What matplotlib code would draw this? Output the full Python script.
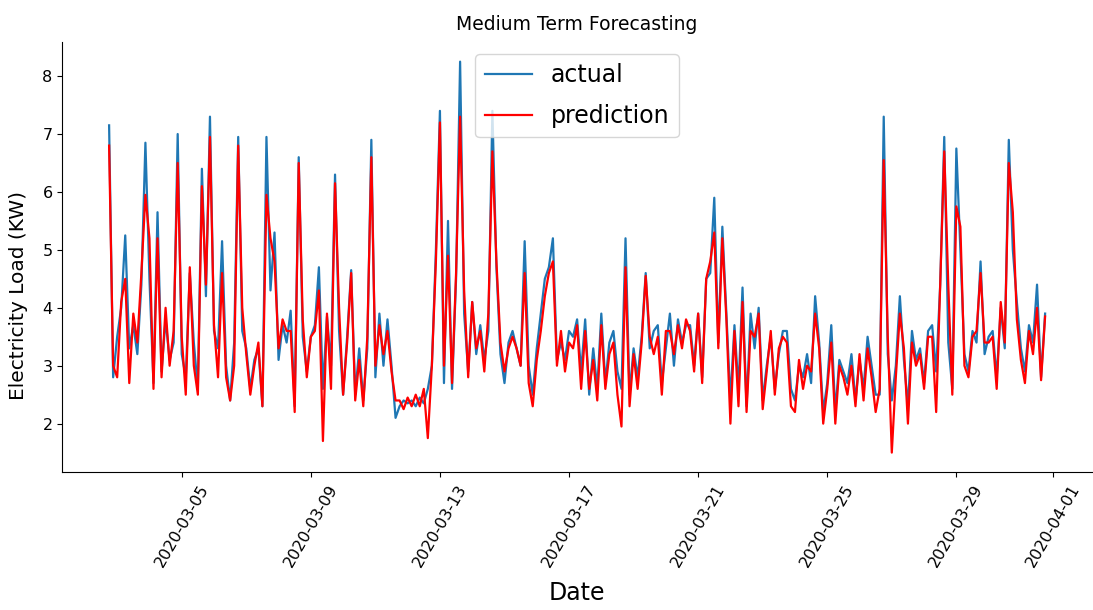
"""Medium term forecasting: actual vs predicted electricity load."""

import matplotlib
matplotlib.use("Agg")
import matplotlib.pyplot as plt
import matplotlib.dates as mdates
import pandas as pd

# 3-hourly readings starting 2020-03-02 18:00 (one row per day)
actual = [
    7.15, 2.8, 3.5, 4.0, 5.25, 3.3, 3.7, 3.2,
    4.4, 6.85, 4.5, 2.7, 5.65, 2.9, 3.8, 3.1,
    3.4, 7.0, 3.2, 2.8, 4.6, 3.4, 2.6, 6.4,
    4.2, 7.3, 3.6, 3.3, 5.15, 3.0, 2.4, 3.4,
    6.95, 3.6, 3.3, 2.6, 3.1, 3.3, 2.3, 6.95,
    4.3, 5.3, 3.1, 3.7, 3.4, 3.95, 2.3, 6.6,
    3.5, 2.9, 3.5, 3.7, 4.7, 2.6, 3.85, 3.0,
    6.3, 3.6, 2.5, 3.5, 4.65, 2.5, 3.3, 2.4,
    3.3, 6.9, 2.8, 3.9, 3.0, 3.8, 3.0, 2.1,
    2.3, 2.4, 2.35, 2.4, 2.3, 2.45, 2.35, 2.6,
    3.0, 5.0, 7.4, 2.7, 5.5, 2.6, 4.5, 8.25,
    3.9, 2.9, 4.1, 3.2, 3.7, 3.1, 3.6, 7.4,
    4.7, 3.2, 2.7, 3.4, 3.6, 3.3, 3.0, 5.15,
    3.0, 2.5, 3.3, 3.9, 4.5, 4.7, 5.2, 3.1,
    3.4, 3.1, 3.6, 3.5, 3.8, 2.9, 3.8, 2.5,
    3.3, 2.6, 3.9, 2.7, 3.4, 3.6, 2.9, 2.6,
    5.2, 2.5, 3.3, 2.8, 3.5, 4.6, 3.3, 3.6,
    3.7, 2.7, 3.3, 3.9, 3.0, 3.8, 3.4, 3.7,
    3.7, 3.0, 3.9, 2.8, 4.5, 4.6, 5.9, 3.4,
    5.4, 3.9, 2.4, 3.7, 2.6, 4.35, 2.3, 3.9,
    3.3, 4.0, 2.4, 3.0, 3.5, 2.6, 3.2, 3.6,
    3.6, 2.6, 2.4, 3.0, 2.8, 3.2, 2.7, 4.2,
    3.4, 2.2, 2.7, 3.7, 2.2, 3.1, 2.9, 2.7,
    3.2, 2.4, 3.1, 2.6, 3.5, 3.0, 2.5, 2.5,
    7.3, 3.2, 2.4, 3.0, 4.2, 3.1, 2.3, 3.6,
    3.1, 3.3, 2.7, 3.6, 3.7, 2.9, 4.4, 6.95,
    3.4, 2.6, 6.75, 5.0, 3.2, 2.9, 3.6, 3.4,
    4.8, 3.2, 3.5, 3.6, 2.8, 4.0, 3.3, 6.9,
    5.0, 4.1, 3.3, 2.9, 3.7, 3.4, 4.4, 2.8,
    3.9,
]

prediction = [
    6.8, 3.0, 2.8, 4.1, 4.5, 2.7, 3.9, 3.4,
    4.6, 5.95, 5.2, 2.6, 5.2, 2.8, 4.0, 3.0,
    3.6, 6.5, 3.5, 2.5, 4.7, 3.0, 2.5, 6.1,
    4.4, 6.95, 3.7, 2.8, 4.6, 2.8, 2.4, 3.0,
    6.8, 4.0, 3.2, 2.5, 3.0, 3.4, 2.3, 5.95,
    5.2, 4.8, 3.3, 3.8, 3.6, 3.6, 2.2, 6.5,
    3.8, 2.8, 3.5, 3.6, 4.3, 1.7, 3.9, 2.6,
    6.15, 4.0, 2.5, 3.4, 4.6, 2.4, 3.1, 2.3,
    3.5, 6.6, 3.0, 3.7, 3.2, 3.6, 2.9, 2.4,
    2.4, 2.25, 2.45, 2.3, 2.5, 2.3, 2.6, 1.75,
    3.0, 4.8, 7.2, 3.0, 4.9, 2.7, 4.6, 7.3,
    4.3, 2.8, 4.1, 3.3, 3.6, 2.9, 3.9, 6.7,
    4.8, 3.4, 2.9, 3.3, 3.5, 3.3, 3.0, 4.6,
    2.7, 2.3, 3.1, 3.6, 4.2, 4.6, 4.8, 3.0,
    3.6, 2.9, 3.4, 3.3, 3.7, 2.6, 3.6, 2.6,
    3.1, 2.4, 3.7, 2.6, 3.2, 3.4, 2.5, 1.95,
    4.7, 2.3, 3.2, 2.6, 3.4, 4.55, 3.5, 3.2,
    3.5, 2.5, 3.6, 3.6, 3.2, 3.7, 3.3, 3.8,
    3.6, 2.9, 3.9, 2.7, 4.5, 4.8, 5.3, 3.3,
    5.2, 3.8, 2.0, 3.6, 2.3, 4.1, 2.2, 3.6,
    3.5, 3.9, 2.25, 2.9, 3.6, 2.5, 3.3, 3.5,
    3.4, 2.3, 2.2, 3.1, 2.6, 3.0, 2.9, 3.9,
    3.3, 2.0, 2.6, 3.4, 2.0, 3.0, 2.8, 2.5,
    3.0, 2.3, 3.2, 2.4, 3.3, 2.8, 2.2, 2.6,
    6.55, 3.5, 1.5, 2.8, 3.9, 3.3, 2.0, 3.4,
    3.0, 3.2, 2.6, 3.5, 3.5, 2.2, 4.4, 6.7,
    4.4, 2.5, 5.75, 5.4, 3.0, 2.8, 3.5, 3.6,
    4.6, 3.4, 3.4, 3.5, 2.6, 4.1, 3.4, 6.5,
    5.65, 3.8, 3.1, 2.7, 3.6, 3.2, 4.0, 2.75,
    3.85,
]

dates = pd.date_range("2020-03-02 18:00", periods=len(actual), freq="3h")

fig = plt.figure(figsize=(10.93, 6.1), dpi=100)
ax = fig.add_axes([0.057, 0.226, 0.942, 0.705])

ax.plot(dates, actual, color="#1f77b4", linewidth=1.6, label="actual")
ax.plot(dates, prediction, color="red", linewidth=1.6, label="prediction")

ax.xaxis.set_major_locator(mdates.DayLocator(bymonthday=[1, 5, 9, 13, 17, 21, 25, 29]))
ax.xaxis.set_major_formatter(mdates.DateFormatter("%Y-%m-%d"))
ax.tick_params(labelsize=11.5)
plt.setp(ax.get_xticklabels(), rotation=60)

ax.spines["top"].set_visible(False)
ax.spines["right"].set_visible(False)

ax.set_title("Medium Term Forecasting", fontsize=13.5, pad=9)
ax.set_xlabel("Date", fontsize=17, labelpad=8)
ax.set_ylabel("Electricity Load (KW)", fontsize=14.5)
ax.yaxis.set_label_coords(-0.033, 0.41)
ax.legend(loc="upper center", fontsize=17, labelspacing=0.7)

fig.savefig("out.png", dpi=100)
